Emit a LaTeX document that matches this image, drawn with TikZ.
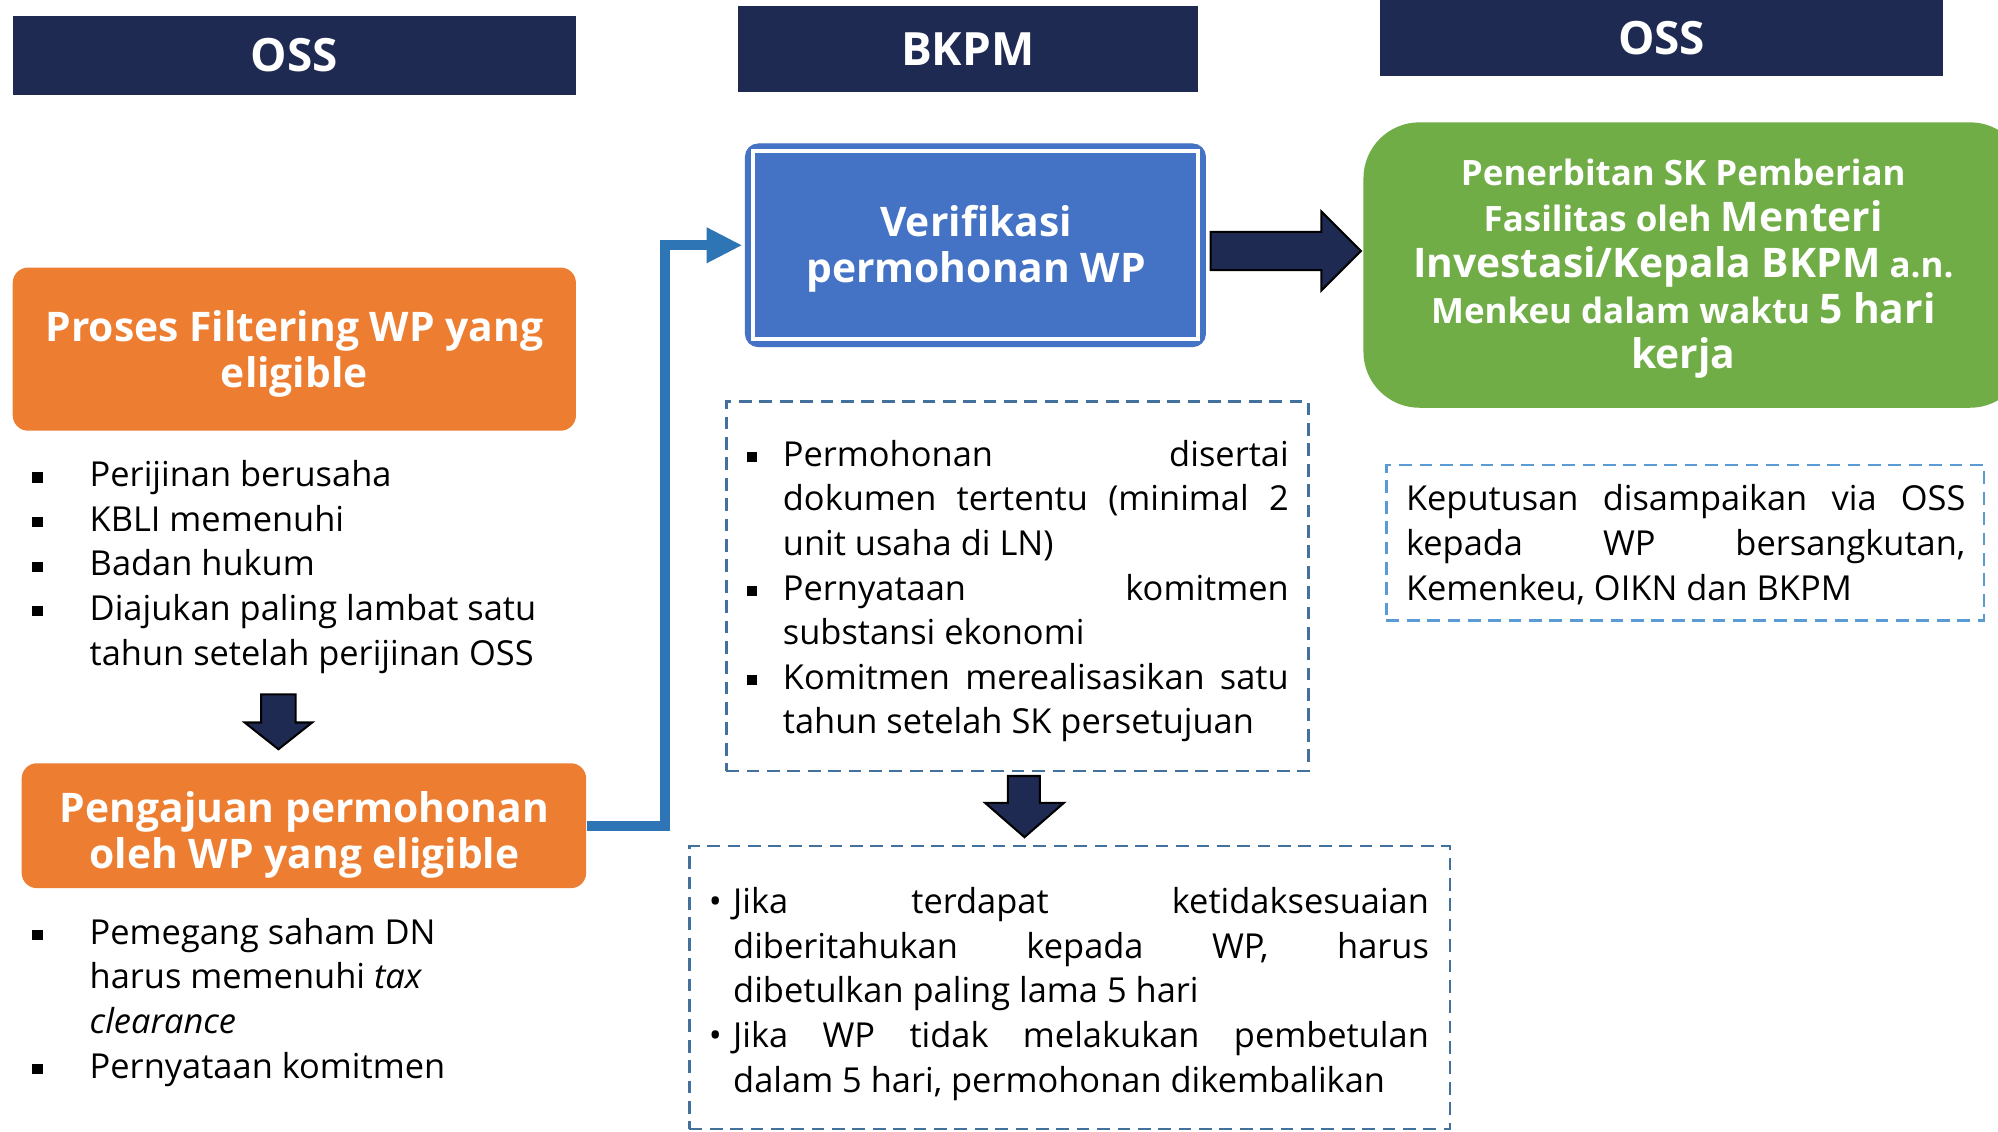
\documentclass[tikz,border=0pt]{standalone}
\usepackage{fontspec}
\setmainfont{Open Sans}
\usetikzlibrary{arrows.meta,calc}
\definecolor{navy}{HTML}{1F2A52}
\definecolor{orangebox}{HTML}{ED7D31}
\definecolor{bluebox}{HTML}{4472C4}
\definecolor{blueconn}{HTML}{2E75B6}
\definecolor{greenbox}{HTML}{70AD47}
\definecolor{dashdark}{HTML}{41719C}
\definecolor{dashlight}{HTML}{5B9BD5}
\newcommand{\itm}[2]{\makebox[#1][l]{\raisebox{1.6pt}{\rule{4pt}{4pt}}}#2}
\newcommand{\bbl}[2]{\makebox[#1][l]{\textbullet}#2}
\newcommand{\cnt}[2]{\hspace*{#1}#2}
\newcommand{\fsm}{\fontsize{13.7}{18}\selectfont}
\newcommand{\flg}{\fontsize{16}{18}\selectfont}
\tikzset{
  hdr/.style={fill=navy, draw=none, text=white, inner sep=0pt,
    font=\bfseries\fontsize{18}{20}\selectfont},
  orbox/.style={fill=orangebox, draw=none, rounded corners=6pt, inner sep=0pt},
  boxtxt/.style={text=white, align=center, inner sep=0pt,
    font=\bfseries\fontsize{16}{18}\selectfont},
  txt/.style={inner sep=0pt, font=\fontsize{13.5}{17.5}\selectfont, text=black},
  dbox/.style={draw=#1, dash pattern=on 5pt off 3pt, line width=1pt, inner sep=0pt},
  blockarrow/.style={fill=navy, draw=black, line width=0.8pt, line join=miter},
  conn/.style={draw=blueconn, line width=4pt, line join=miter,
    -{Triangle[length=14pt,width=13pt]}, shorten >=1pt}
}
\begin{document}
\begin{tikzpicture}[x=0.5pt,y=-0.5pt]
\useasboundingbox (0,0) rectangle (1568,888);
\fill[white] (0,0) rectangle (1568,888);

% headers
\node[hdr, minimum width=221pt, minimum height=31pt] (h1) at (231,43.5) {OSS};
\node[hdr, minimum width=180.5pt, minimum height=33.5pt] (h2) at (759.5,38.5) {BKPM};
\node[hdr, minimum width=221pt, minimum height=30pt] (h3) at (1304,30) {OSS};

% orange boxes
\node[orbox, minimum width=221pt, minimum height=64pt] (proses) at (231,274) {};
\node[boxtxt] (prosestxt) at (231,278) {Proses Filtering WP yang\\eligible};
\node[orbox, minimum width=221.5pt, minimum height=49pt] (peng) at (238.5,648) {};
\node[boxtxt] (pengtxt) at (239,655) {Pengajuan permohonan\\oleh WP yang eligible};

% verifikasi box
\node[fill=bluebox, draw=bluebox, rounded corners=5pt, minimum width=180.5pt,
  minimum height=79.5pt, inner sep=0pt] (verif) at (765.5,192.5) {};
\draw[white, line width=1.6pt] ($(verif.south west)+(3pt,3pt)$) rectangle ($(verif.north east)+(-3pt,-3pt)$);
\node[boxtxt] (veriftxt) at (766,195) {Verifikasi\\permohonan WP};

% green box
\begin{scope}
\clip (0,0) rectangle (1568,888);
\node[fill=greenbox, draw=none, rounded corners=22pt, minimum width=260pt,
  minimum height=112pt] (green) at (1330,208) {};
\end{scope}
\node[text=white, align=center, inner sep=0pt, font=\bfseries\fsm] (greentxt) at (1321,211)
  {Penerbitan SK Pemberian\\
   Fasilitas oleh {\flg Menteri}\\
   {\flg Investasi/Kepala BKPM} a.n.\\
   Menkeu dalam waktu {\flg 5 hari}\\
   {\flg kerja}};

% dashed boxes
\node[dbox=dashdark, minimum width=228.5pt, minimum height=145pt] (mid) at (798.5,460) {};
\node[dbox=dashdark, minimum width=298.5pt, minimum height=111pt] (bot) at (839.5,775) {};
\node[dbox=dashlight, minimum width=234.5pt, minimum height=61pt] (kep) at (1322.5,426) {};

% left list 1
\node[txt, anchor=base west] (list1) at (25,382) {\parbox[t]{240pt}{%
\itm{22.5pt}{Perijinan berusaha}\\
\itm{22.5pt}{KBLI memenuhi}\\
\itm{22.5pt}{Badan hukum}\\
\itm{22.5pt}{Diajukan paling lambat satu}\\
\cnt{22.5pt}{tahun setelah perijinan OSS}}};

% left list 2
\node[txt, anchor=base west] (list2) at (25,741) {\parbox[t]{240pt}{%
\itm{22.5pt}{Pemegang saham DN}\\
\cnt{22.5pt}{harus memenuhi \textit{tax}}\\
\cnt{22.5pt}{\textit{clearance}}\\
\itm{22.5pt}{Pernyataan komitmen}}};

% middle list
\node[txt, anchor=base west] (list3) at (586,366) {\parbox[t]{215pt}{%
\itm{14pt}{\makebox[198.5pt][s]{Permohonan disertai}}\\
\cnt{14pt}{\makebox[198.5pt][s]{dokumen tertentu (minimal 2}}\\
\cnt{14pt}{unit usaha di LN)}\\
\itm{14pt}{\makebox[198.5pt][s]{Pernyataan komitmen}}\\
\cnt{14pt}{substansi ekonomi}\\
\itm{14pt}{\makebox[198.5pt][s]{Komitmen merealisasikan satu}}\\
\cnt{14pt}{tahun setelah SK persetujuan}}};

% bottom list
\node[txt, anchor=base west] (list4) at (556,717) {\parbox[t]{285pt}{%
\bbl{9.5pt}{\makebox[273pt][s]{Jika terdapat ketidaksesuaian}}\\
\cnt{9.5pt}{\makebox[273pt][s]{diberitahukan kepada WP, harus}}\\
\cnt{9.5pt}{dibetulkan paling lama 5 hari}\\
\bbl{9.5pt}{\makebox[273pt][s]{Jika WP tidak melakukan pembetulan}}\\
\cnt{9.5pt}{dalam 5 hari, permohonan dikembalikan}}};

% right text
\node[txt, anchor=base west] (list5) at (1103,401) {\parbox[t]{225pt}{%
\makebox[219.5pt][s]{Keputusan disampaikan via OSS}\\
\makebox[219.5pt][s]{kepada WP bersangkutan,}\\
Kemenkeu, OIKN dan BKPM}};

% block arrows
\filldraw[blockarrow] (205,545) -- (232,545) -- (232,567) -- (245,567) -- (218.5,588)
  -- (192,567) -- (205,567) -- cycle;
\filldraw[blockarrow] (791,609) -- (816,609) -- (816,630) -- (835,630) -- (804,657)
  -- (773,630) -- (791,630) -- cycle;
\filldraw[blockarrow] (950,182) -- (1037,182) -- (1037,166) -- (1068,197) -- (1037,228)
  -- (1037,212) -- (950,212) -- cycle;

% elbow connector
\coordinate (elb) at (522,648);
\draw[conn] (peng.east) -- (elb) |- (verif.west);
\end{tikzpicture}
\end{document}
